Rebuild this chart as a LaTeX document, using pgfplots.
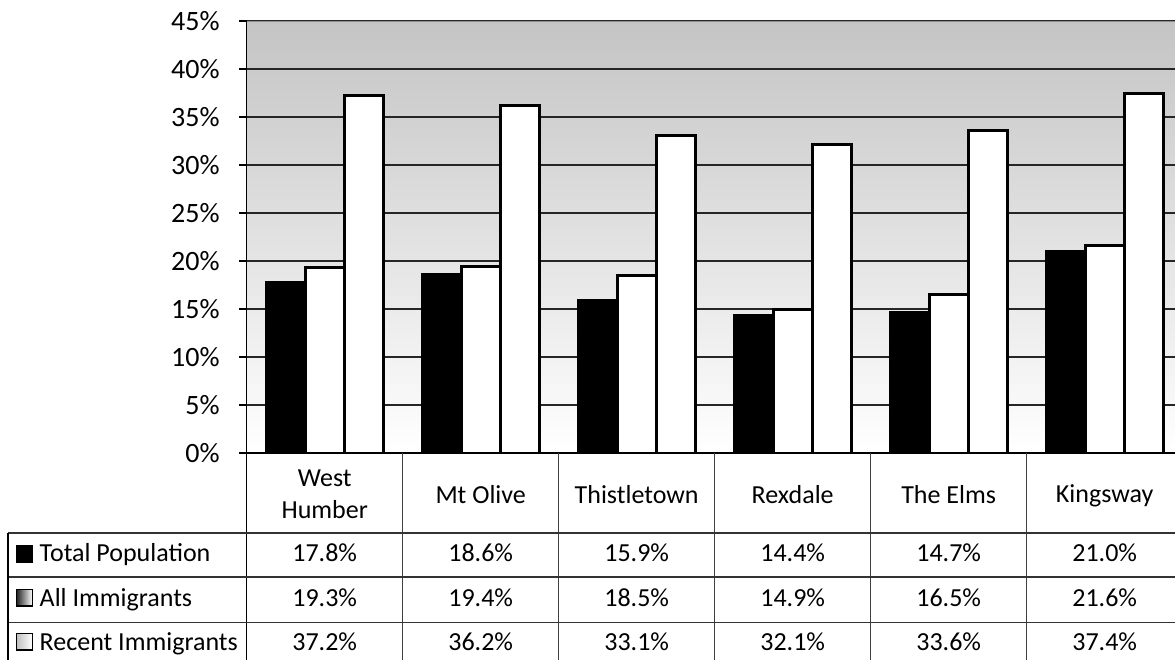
\documentclass[border=0pt]{standalone}
\usepackage{pgfplots}
\pgfplotsset{compat=1.18}
\usepackage{fontspec}
\setmainfont{Carlito}

\definecolor{bgtop}{RGB}{196,196,196}
\newcommand{\tfont}{\fontsize{13}{16}\selectfont}

\begin{document}
\begin{tikzpicture}
\path[use as bounding box] (0,0) rectangle (587.5pt,330pt);
\clip (0,0) rectangle (587.5pt,330pt);
\begin{axis}[
  scale only axis,
  width=468pt, height=216pt,
  at={(123.35pt,103.5pt)}, anchor=south west,
  xmin=-0.5, xmax=5.5, ymin=0, ymax=45,
  axis x line*=bottom, axis y line*=left,
  axis line style={-, black, line width=0.8pt},
  axis background/.style={top color=bgtop, bottom color=white},
  ytick={0,5,...,45},
  /pgf/number format/assume math mode=true,
  yticklabel={\pgfmathprintnumber{\tick}\%},
  yticklabel style={font=\fontsize{14}{16}\selectfont, xshift=-6pt},
  tick align=outside, major tick length=4pt,
  y tick style={black, line width=0.6pt},
  ymajorgrids, grid style={black!85, line width=0.6pt},
  xtick={0,...,5},
  xticklabels={{West\\Humber},Mt Olive,Thistletown,Rexdale,The Elms,Kingsway},
  xticklabel style={font=\tfont, align=center, anchor=center, text depth=0pt, yshift=-16.5pt},
  x tick style={draw=none},
  ybar=0pt, bar width=0.25,
]
\draw[black!45, line width=1pt] (rel axis cs:0,1) -- (rel axis cs:1,1);
\addplot[fill=black, draw=black, line width=1.2pt] coordinates {
  (0,17.8) (1,18.6) (2,15.9) (3,14.4) (4,14.7) (5,21.0)};
\addplot[fill=white, draw=black, line width=1.5pt] coordinates {
  (0,19.3) (1,19.4) (2,18.5) (3,14.9) (4,16.5) (5,21.6)};
\addplot[fill=white, draw=black, line width=1.5pt] coordinates {
  (0,37.2) (1,36.2) (2,33.1) (3,32.1) (4,33.6) (5,37.4)};
\end{axis}

% data table below the chart
\draw[black, line width=0.6pt] (123.35pt,103.5pt) -- (123.35pt,0);
\foreach \x in {201.35,279.35,357.35,435.35,513.35}
  \draw[black!75, line width=0.6pt] (\x pt,103.5pt) -- (\x pt,0);
\foreach \y in {63.5,41.5,18.75}
  \draw[black!80, line width=0.6pt] (4pt,\y pt) -- (590pt,\y pt);
\draw[black, line width=0.6pt] (4pt,63.5pt) -- (4pt,0);

\foreach \lab/\y in {Total Population/49, All Immigrants/27, Recent Immigrants/5}
  \node[anchor=base west, inner sep=0pt, font=\tfont] at (19.65pt,\y pt) {\lab};
\filldraw[black] (8.35pt,49pt) rectangle (16.15pt,57.3pt);
\draw[black, line width=0.7pt, left color=black!85, right color=white]
  (8.35pt,27pt) rectangle (16.15pt,35.3pt);
\draw[black, line width=0.7pt, left color=black!25, right color=white]
  (8.35pt,5pt) rectangle (16.15pt,13.3pt);

\foreach \cx/\a/\b/\c in {162.35/17.8/19.3/37.2, 240.35/18.6/19.4/36.2,
    318.35/15.9/18.5/33.1, 396.35/14.4/14.9/32.1, 474.35/14.7/16.5/33.6,
    552.35/21.0/21.6/37.4} {
  \node[font=\tfont, anchor=base, inner sep=0pt] at (\cx pt,49pt) {\a\%};
  \node[font=\tfont, anchor=base, inner sep=0pt] at (\cx pt,27pt) {\b\%};
  \node[font=\tfont, anchor=base, inner sep=0pt] at (\cx pt,5pt) {\c\%};
}
\end{tikzpicture}
\end{document}
